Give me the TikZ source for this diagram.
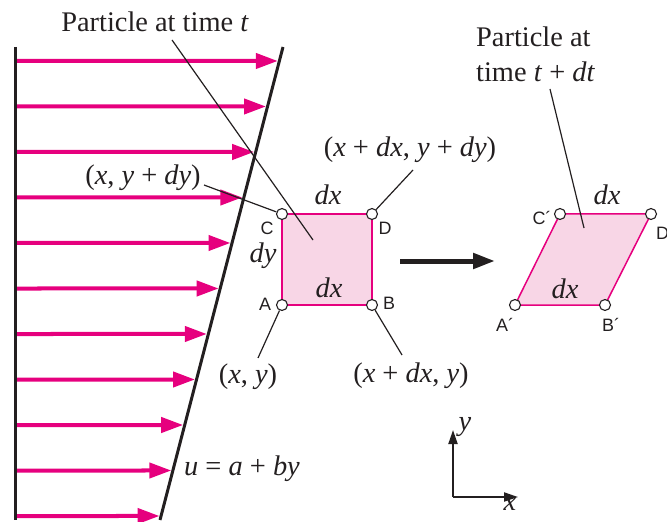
\documentclass[tikz,border=0pt]{standalone}
\usepackage{fontspec}
\setmainfont{Liberation Serif}
\newfontfamily\labfont{Liberation Sans}
\usetikzlibrary{arrows.meta,calc}
\definecolor{mag}{RGB}{230,0,126}
\definecolor{pinkfill}{RGB}{248,214,230}
\definecolor{ink}{RGB}{35,31,32}
\newcommand{\mi}[1]{\textit{#1}}
\begin{document}
\begin{tikzpicture}[x=1bp,y=-1bp,
  txt/.style={font=\fontsize{28.5}{31}\selectfont, inner sep=0pt, anchor=base, text=ink},
  corner/.style={circle, draw=ink, fill=white, line width=1.1bp, minimum size=11bp, inner sep=0pt},
  clab/.style={font=\labfont\fontsize{18}{20}\selectfont, inner sep=0pt, text=ink},
  leader/.style={draw=ink, line width=1.2bp},
  flow/.style={draw=mag, line width=4bp, -{Triangle[length=22bp,width=15bp]}},
  wall/.style={draw=ink, line width=3bp},
  elem/.style={draw=mag, fill=pinkfill, line width=1.5bp},
  bigarrow/.style={draw=ink, line width=5bp, -{Triangle[length=22bp,width=15bp]}},
  axis/.style={draw=ink, line width=2bp, -{Triangle[length=14bp,width=9bp]}}]
\useasboundingbox (0,0) rectangle (667,522);
% velocity profile
\coordinate (wt) at (15,47);
\coordinate (wb) at (15,520);
\coordinate (st) at (283,47);
\coordinate (sb) at (160,520);
\foreach \i in {0,...,10}{
  \pgfmathsetmacro\yy{61+45.5*\i}
  \pgfmathsetmacro\ff{(\yy-47)/473}
  \coordinate (fs\i) at (15,\yy);
  \coordinate (fe\i) at ($(st)!\ff!(sb)$);
  \draw[flow, shorten >=1.5bp] (fs\i) -- (fe\i);
}
\draw[wall] (wt) -- (wb);
\draw[wall] (st) -- (sb);
\node[txt, anchor=base west] (ueq) at (184,475) {\mi{u} = \mi{a} + \mi{by}};
% element at time t
\coordinate (pA) at (282,305);
\coordinate (pB) at (372,305);
\coordinate (pC) at (282,214);
\coordinate (pD) at (372,214);
\path[elem] (pA) -- (pB) -- (pD) -- (pC) -- cycle;
\node[txt] (dxt) at (328,205) {\mi{dx}};
\node[txt] (dxb) at (329,297) {\mi{dx}};
\node[txt] (dyl) at (263,263) {\mi{dy}};
% labels and leaders
\node[txt] (ptl) at (155,32) {Particle at time \mi{t}};
\coordinate (ptla) at (172,40);
\coordinate (ptlb) at (313,240);
\draw[leader] (ptla) -- (ptlb);
\node[corner] (A) at (pA) {};
\node[corner] (B) at (pB) {};
\node[corner] (C) at (pC) {};
\node[corner] (D) at (pD) {};
\node[clab] (lA) at (265,304) {A};
\node[clab] (lB) at (389,303) {B};
\node[clab] (lC) at (267,228) {C};
\node[clab] (lD) at (385,228) {D};
\node[txt] (cC) at (143,185) {(\mi{x}, \mi{y} + \mi{dy})};
\node[txt] (cD) at (410,157) {(\mi{x} + \mi{dx}, \mi{y} + \mi{dy})};
\node[txt] (cA) at (248,383) {(\mi{x}, \mi{y})};
\node[txt] (cB) at (411,382) {(\mi{x} + \mi{dx}, \mi{y})};
\coordinate (eC) at (204,185);
\coordinate (eD) at (413,170);
\coordinate (eA) at (258,358);
\coordinate (eB) at (402,355);
\draw[leader] (eC) -- (C);
\draw[leader] (eD) -- (D);
\draw[leader] (eA) -- (A);
\draw[leader] (eB) -- (B);
% motion arrow
\coordinate (ma) at (400,261);
\coordinate (mb) at (495,261);
\draw[bigarrow] (ma) -- (mb);
% element at time t+dt
\coordinate (qA) at (515,305);
\coordinate (qB) at (605,305);
\coordinate (qC) at (560,214);
\coordinate (qD) at (651,214);
\path[elem] (qA) -- (qB) -- (qD) -- (qC) -- cycle;
\node[txt] (dxt2) at (607,205) {\mi{dx}};
\node[txt] (dxb2) at (565,298) {\mi{dx}};
\node[txt, anchor=base west] (pt2a) at (476,47) {Particle at};
\node[txt, anchor=base west] (pt2b) at (476,82) {time \mi{t} + \mi{dt}};
\coordinate (pt2la) at (550,89);
\coordinate (pt2lb) at (584,228);
\draw[leader] (pt2la) -- (pt2lb);
\node[corner] (A2) at (qA) {};
\node[corner] (B2) at (qB) {};
\node[corner] (C2) at (qC) {};
\node[corner] (D2) at (qD) {};
\node[clab] (lA2) at (505,325) {A´};
\node[clab] (lB2) at (611,325) {B´};
\node[clab] (lC2) at (542,218) {C´};
\node[clab, anchor=west] (lD2) at (656,233) {D´};
% axes
\coordinate (o) at (453,497);
\coordinate (oy) at (453,430);
\coordinate (ox) at (518,497);
\draw[axis] (o) -- (oy);
\draw[axis] (o) -- (ox);
\node[txt] (ly) at (465,430) {\mi{y}};
\node[txt] (lx) at (510,510) {\mi{x}};
\end{tikzpicture}
\end{document}
